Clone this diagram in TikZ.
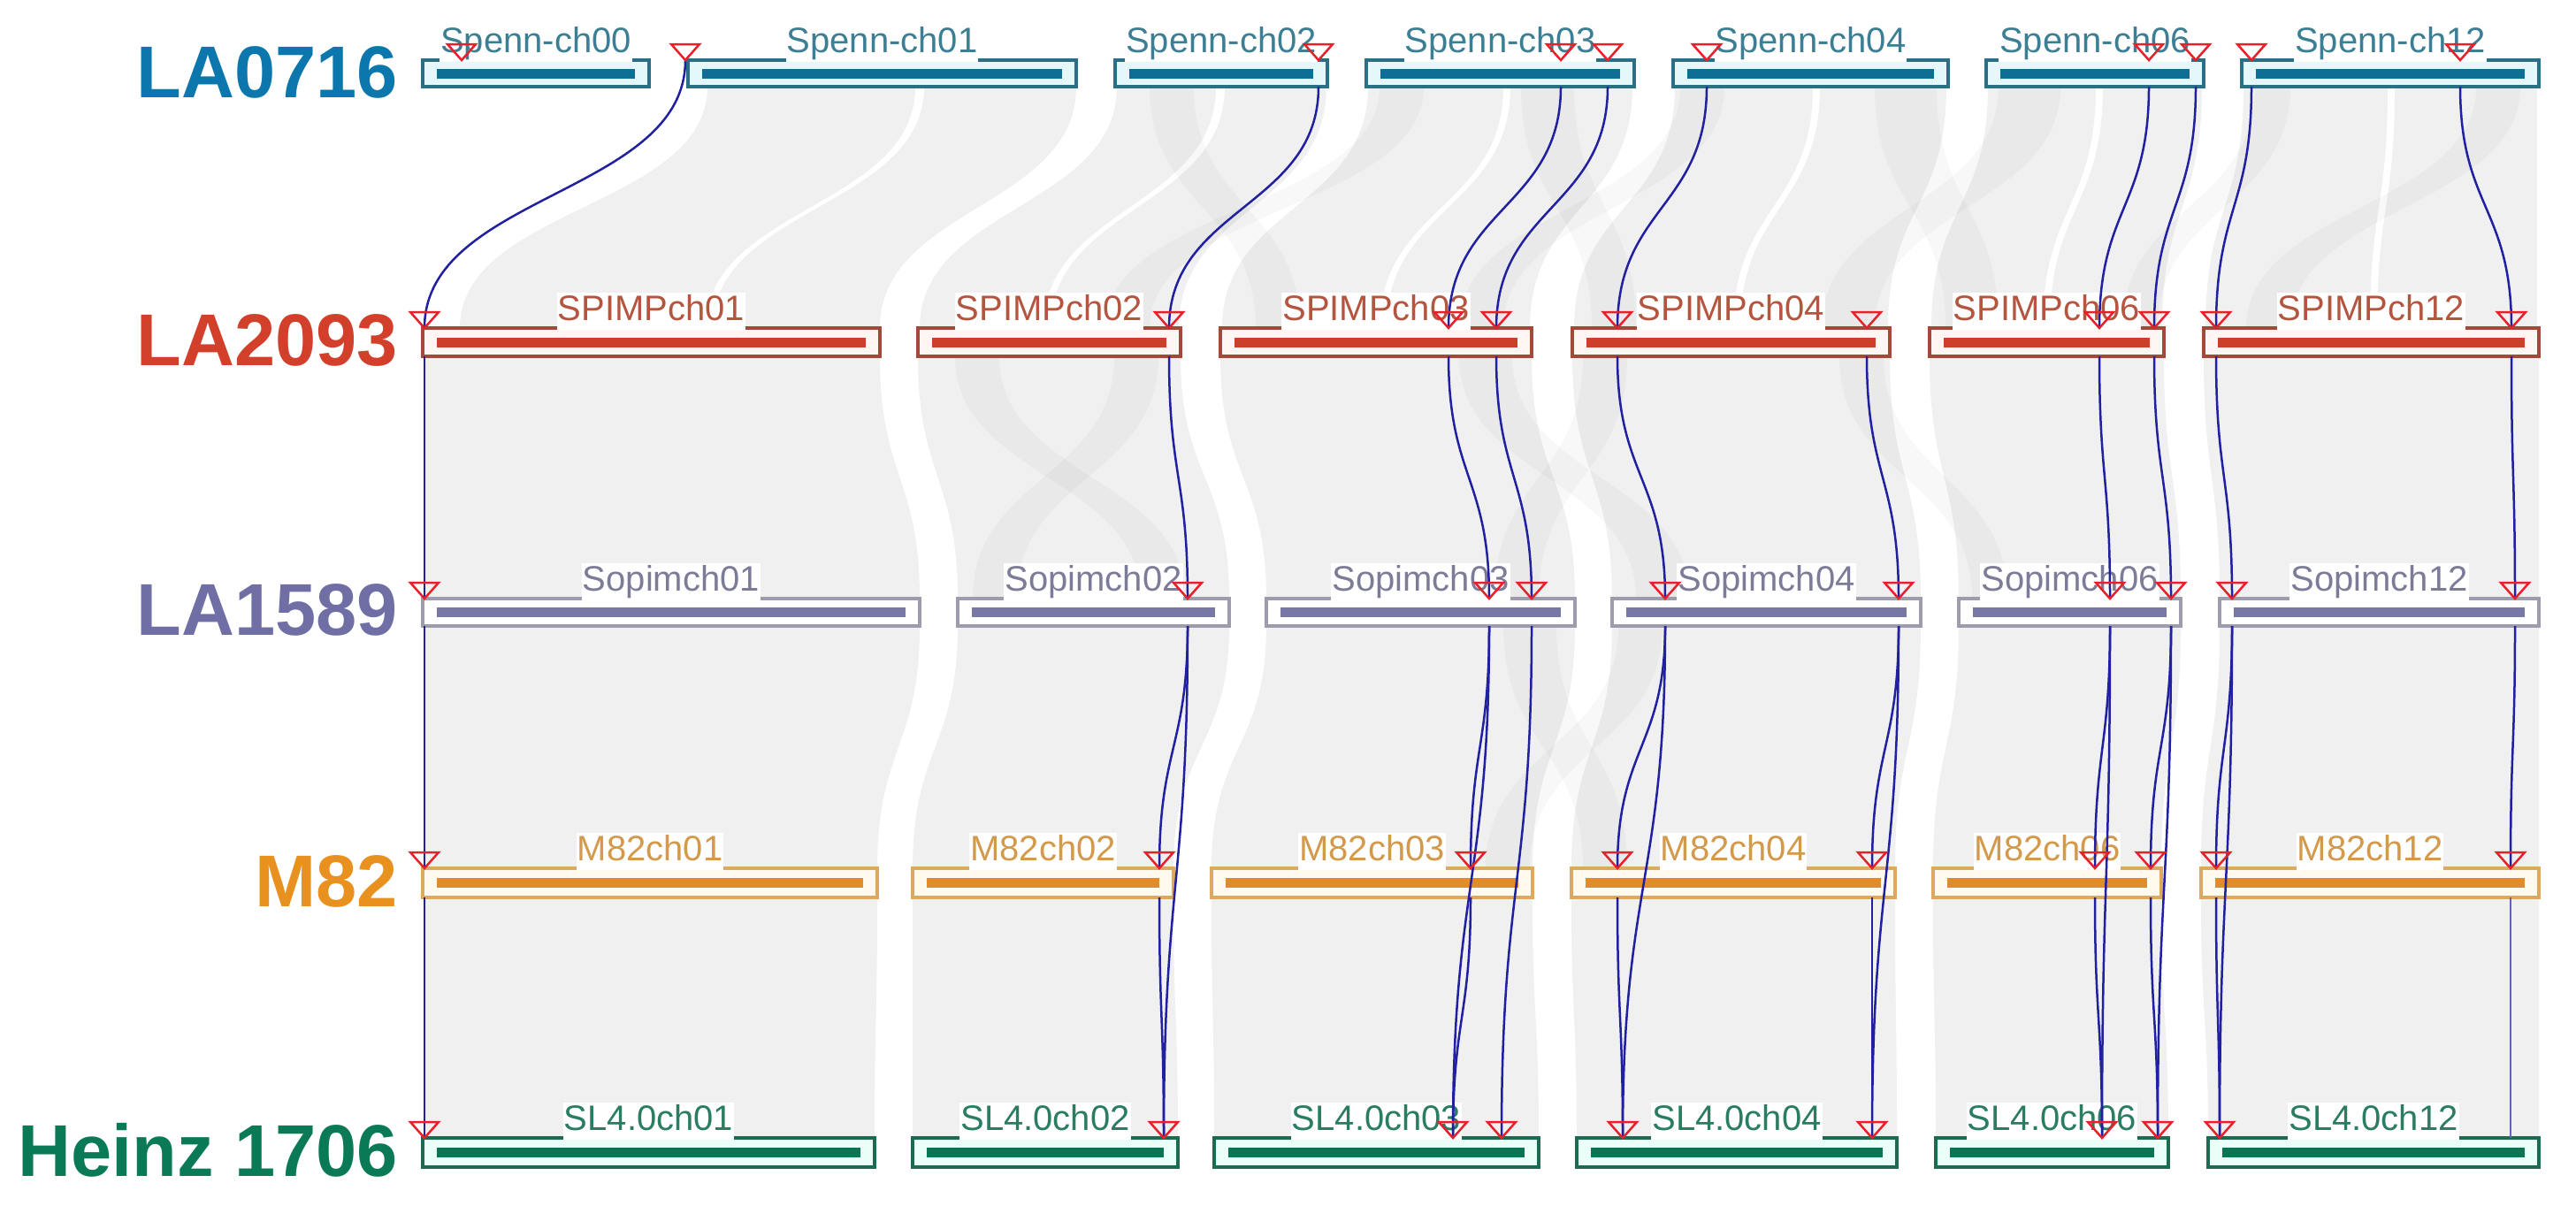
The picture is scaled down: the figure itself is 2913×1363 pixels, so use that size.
\documentclass[tikz,border=0pt]{standalone}
\usepackage{fontspec}
\setmainfont{Liberation Sans}
\usetikzlibrary{calc}

\definecolor{Aname}{HTML}{0B77AC}\definecolor{Abar}{HTML}{0E6E96}\definecolor{Aborder}{HTML}{2A6F86}\definecolor{Afill}{HTML}{E4F7FB}\definecolor{Alab}{HTML}{3C7F94}
\definecolor{Bname}{HTML}{D2402B}\definecolor{Bbar}{HTML}{CC3F28}\definecolor{Bborder}{HTML}{A4483A}\definecolor{Bfill}{HTML}{FFF6F4}\definecolor{Blab}{HTML}{B4563F}
\definecolor{Cname}{HTML}{6F6FA5}\definecolor{Cbar}{HTML}{7878A6}\definecolor{Cborder}{HTML}{9C9CAC}\definecolor{Cfill}{HTML}{FFFFFF}\definecolor{Clab}{HTML}{7C7C98}
\definecolor{Dname}{HTML}{E8911F}\definecolor{Dbar}{HTML}{E08C2C}\definecolor{Dborder}{HTML}{DDA862}\definecolor{Dfill}{HTML}{FFF9EE}\definecolor{Dlab}{HTML}{D49A4C}
\definecolor{Ename}{HTML}{0A7A56}\definecolor{Ebar}{HTML}{0A7552}\definecolor{Eborder}{HTML}{1E6A50}\definecolor{Efill}{HTML}{EAFFF8}\definecolor{Elab}{HTML}{2A7D62}
\definecolor{linkblue}{HTML}{2020A0}
\definecolor{trired}{HTML}{E8202C}

\tikzset{
  ribbon/.style={fill=black, fill opacity=0.06},
  xribbon/.style={fill=black, fill opacity=0.028},
  link/.style={draw=linkblue, line width=2.5pt},
  paleLink/.style={draw=linkblue!70, line width=2pt},
  tri/.style={draw=trired, line width=2.5pt, line join=miter},
  gname/.style={font=\bfseries\fontsize{83}{83}\selectfont, inner sep=0pt, anchor=base east},
  chrbox/.style={line width=3.5pt, inner sep=0pt},
  boxA/.style={chrbox, draw=Aborder, fill=Afill, minimum height=30},
  boxB/.style={chrbox, draw=Bborder, fill=Bfill, minimum height=32},
  boxC/.style={chrbox, draw=Cborder, fill=Cfill, minimum height=31},
  boxD/.style={chrbox, draw=Dborder, fill=Dfill, minimum height=33},
  boxE/.style={chrbox, draw=Eborder, fill=Efill, minimum height=33},
  barA/.style={draw=Abar, line width=11pt},
  barB/.style={draw=Bbar, line width=11pt},
  barC/.style={draw=Cbar, line width=11pt},
  barD/.style={draw=Dbar, line width=11pt},
  barE/.style={draw=Ebar, line width=11pt},
  chrlab/.style={font=\fontsize{40}{40}\selectfont, fill=white, inner sep=1pt, text height=30pt, text depth=10pt, anchor=base},
  labA/.style={chrlab, text=Alab},
  labB/.style={chrlab, text=Blab},
  labC/.style={chrlab, text=Clab},
  labD/.style={chrlab, text=Dlab},
  labE/.style={chrlab, text=Elab},
}

% ribbon: x1a x1b y1 x2a x2b y2
\newcommand\mkrib[7][ribbon]{%
  \fill[#1] (#2,#4) .. controls (#2,{(#4+#7)/2}) and (#5,{(#4+#7)/2}) .. (#5,#7)
    -- (#6,#7) .. controls (#6,{(#4+#7)/2}) and (#3,{(#4+#7)/2}) .. (#3,#4) -- cycle;}
% link between two named coordinates, vertical S-curve
\newcommand\mklink[3][link]{%
  \draw[#1] let \p1=(#2), \p2=(#3) in (\p1) .. controls ({\x1},{(\y1+\y2)/2}) and ({\x2},{(\y1+\y2)/2}) .. (\p2);}
% chromosome: row letter, name, xl, xr, yc, label
\newcommand\chrom[6]{%
  \node[box#1, minimum width={#4-#3}] (#2) at ({(#3+#4)/2},#5) {};
  \draw[bar#1] ([xshift=18pt]#2.west) -- ([xshift=-18pt]#2.east);
  \node[lab#1] (#2-lab) at ([yshift=7pt]#2.north) {#6};}

\begin{document}
\begin{tikzpicture}[x=1pt,y=-1pt]
\fill[white] (0,0) rectangle (2913,1363);
\useasboundingbox (0,0) rectangle (2913,1363);

% ---------------- synteny ribbons ----------------
% LA0716 -> LA2093
\mkrib{800}{1035}{98}{520}{798}{371}
\mkrib{1045}{1217}{98}{806}{995}{371}
\mkrib{1263}{1375}{98}{1040}{1180}{371}
\mkrib{1385}{1500}{98}{1188}{1333}{371}
\mkrib{1547}{1700}{98}{1382}{1560}{371}
\mkrib{1708}{1846}{98}{1568}{1730}{371}
\mkrib{1894}{2050}{98}{1780}{1960}{371}
\mkrib{2058}{2201}{98}{1968}{2135}{371}
\mkrib{2248}{2370}{98}{2184}{2310}{371}
\mkrib{2378}{2490}{98}{2318}{2445}{371}
\mkrib{2537}{2700}{98}{2494}{2680}{371}
\mkrib{2708}{2869}{98}{2688}{2869}{371}
\mkrib[xribbon]{2120}{2190}{98}{2200}{2260}{371}
\mkrib[xribbon]{2260}{2330}{98}{2060}{2120}{371}
\mkrib[xribbon]{1900}{1950}{98}{1650}{1700}{371}
\mkrib[xribbon]{1720}{1780}{98}{1800}{1850}{371}
\mkrib[xribbon]{1300}{1350}{98}{1420}{1470}{371}
\mkrib[xribbon]{1560}{1610}{98}{1250}{1300}{371}
\mkrib[xribbon]{2800}{2850}{98}{2540}{2590}{371}
\mkrib[xribbon]{2550}{2590}{98}{2400}{2440}{371}
% LA2093 -> LA1589
\mkrib{480}{995}{403}{480}{1040}{677}
\mkrib{1038}{1335}{403}{1083}{1390}{677}
\mkrib{1380}{1732}{403}{1432}{1781}{677}
\mkrib{1778}{2137}{403}{1823}{2172}{677}
\mkrib{2182}{2447}{403}{2215}{2466}{677}
\mkrib{2492}{2871}{403}{2510}{2871}{677}
\mkrib[xribbon]{1080}{1130}{403}{1290}{1340}{677}
\mkrib[xribbon]{1260}{1310}{403}{1100}{1150}{677}
\mkrib[xribbon]{1650}{1710}{403}{1850}{1910}{677}
\mkrib[xribbon]{1790}{1840}{403}{1690}{1740}{677}
\mkrib[xribbon]{2080}{2130}{403}{2230}{2270}{677}
% LA1589 -> M82
\mkrib{480}{1040}{708}{480}{992}{982}
\mkrib{1083}{1390}{708}{1032}{1327}{982}
\mkrib{1432}{1781}{708}{1370}{1733}{982}
\mkrib{1823}{2172}{708}{1777}{2143}{982}
\mkrib{2215}{2466}{708}{2186}{2444}{982}
\mkrib{2510}{2871}{708}{2489}{2871}{982}
\mkrib[xribbon]{1700}{1760}{708}{1790}{1840}{982}
\mkrib[xribbon]{1830}{1880}{708}{1680}{1730}{982}
% M82 -> Heinz 1706
\mkrib{480}{992}{1015}{480}{989}{1287}
\mkrib{1032}{1327}{1015}{1032}{1332}{1287}
\mkrib{1370}{1733}{1015}{1373}{1740}{1287}
\mkrib{1777}{2143}{1015}{1783}{2145}{1287}
\mkrib{2186}{2444}{1015}{2189}{2452}{1287}
\mkrib{2489}{2871}{1015}{2497}{2871}{1287}

% ---------------- genome names ----------------
\node[gname, text=Aname] (gA) at (450,110) {LA0716};
\node[gname, text=Bname] (gB) at (450,413) {LA2093};
\node[gname, text=Cname] (gC) at (450,718) {LA1589};
\node[gname, text=Dname] (gD) at (450,1025) {M82};
\node[gname, text=Ename] (gE) at (450,1330) {Heinz 1706};

% ---------------- chromosomes ----------------
\chrom{A}{a00}{478}{734}{83}{Spenn-ch00}
\chrom{A}{a01}{778}{1217}{83}{Spenn-ch01}
\chrom{A}{a02}{1261}{1501}{83}{Spenn-ch02}
\chrom{A}{a03}{1545}{1848}{83}{Spenn-ch03}
\chrom{A}{a04}{1892}{2203}{83}{Spenn-ch04}
\chrom{A}{a06}{2246}{2492}{83}{Spenn-ch06}
\chrom{A}{a12}{2535}{2871}{83}{Spenn-ch12}

\chrom{B}{b01}{478}{995}{387}{SPIMPch01}
\chrom{B}{b02}{1038}{1335}{387}{SPIMPch02}
\chrom{B}{b03}{1380}{1732}{387}{SPIMPch03}
\chrom{B}{b04}{1778}{2137}{387}{SPIMPch04}
\chrom{B}{b06}{2182}{2447}{387}{SPIMPch06}
\chrom{B}{b12}{2492}{2871}{387}{SPIMPch12}

\chrom{C}{c01}{478}{1040}{692.5}{Sopimch01}
\chrom{C}{c02}{1083}{1390}{692.5}{Sopimch02}
\chrom{C}{c03}{1432}{1781}{692.5}{Sopimch03}
\chrom{C}{c04}{1823}{2172}{692.5}{Sopimch04}
\chrom{C}{c06}{2215}{2466}{692.5}{Sopimch06}
\chrom{C}{c12}{2510}{2871}{692.5}{Sopimch12}

\chrom{D}{d01}{478}{992}{998.5}{M82ch01}
\chrom{D}{d02}{1032}{1327}{998.5}{M82ch02}
\chrom{D}{d03}{1370}{1733}{998.5}{M82ch03}
\chrom{D}{d04}{1777}{2143}{998.5}{M82ch04}
\chrom{D}{d06}{2186}{2444}{998.5}{M82ch06}
\chrom{D}{d12}{2489}{2871}{998.5}{M82ch12}

\chrom{E}{e01}{478}{989}{1303.5}{SL4.0ch01}
\chrom{E}{e02}{1032}{1332}{1303.5}{SL4.0ch02}
\chrom{E}{e03}{1373}{1740}{1303.5}{SL4.0ch03}
\chrom{E}{e04}{1783}{2145}{1303.5}{SL4.0ch04}
\chrom{E}{e06}{2189}{2452}{1303.5}{SL4.0ch06}
\chrom{E}{e12}{2497}{2871}{1303.5}{SL4.0ch12}

% ---------------- gene positions ----------------
\foreach \g in {522,775,1491,1765,1818,1930,2430,2483,2546,2782}{\coordinate (t1-\g) at (\g,68); \coordinate (b1-\g) at (\g,98);}
\foreach \g in {480,1322,1638,1692,1829,2111,2374,2436,2506,2840}{\coordinate (t2-\g) at (\g,371); \coordinate (b2-\g) at (\g,403);}
\foreach \g in {480,1343,1684,1732,1883,2147,2386,2455,2524,2844}{\coordinate (t3-\g) at (\g,677); \coordinate (b3-\g) at (\g,708);}
\foreach \g in {480,1311,1663,1829,2117,2369,2432,2506,2839}{\coordinate (t4-\g) at (\g,982); \coordinate (b4-\g) at (\g,1015);}
\foreach \g in {480,1316,1643,1698,1835,2117,2377,2440,2510,2839}{\coordinate (t5-\g) at (\g,1287);}

% ---------------- links ----------------
\mklink{t1-775}{t2-480}
\mklink{b1-1491}{t2-1322}
\mklink{b1-1765}{t2-1638}
\mklink{b1-1818}{t2-1692}
\mklink{b1-1930}{t2-1829}
\mklink{b1-2430}{t2-2374}
\mklink{b1-2483}{t2-2436}
\mklink{b1-2546}{t2-2506}
\mklink{b1-2782}{t2-2840}

\mklink{b2-480}{t3-480}
\mklink{b2-1322}{t3-1343}
\mklink{b2-1638}{t3-1684}
\mklink{b2-1692}{t3-1732}
\mklink{b2-1829}{t3-1883}
\mklink{b2-2111}{t3-2147}
\mklink{b2-2374}{t3-2386}
\mklink{b2-2436}{t3-2455}
\mklink{b2-2506}{t3-2524}
\mklink{b2-2840}{t3-2844}

\mklink{b3-480}{t4-480}
\mklink{b3-1343}{t4-1311}
\mklink{b3-1684}{t4-1663}
\mklink{b3-1883}{t4-1829}
\mklink{b3-2147}{t4-2117}
\mklink{b3-2386}{t4-2369}
\mklink{b3-2455}{t4-2432}
\mklink{b3-2524}{t4-2506}
\mklink{b3-2844}{t4-2839}

\mklink{b3-1343}{t5-1316}
\mklink{b3-1684}{t5-1643}
\mklink{b3-1732}{t5-1698}
\mklink{b3-1883}{t5-1835}
\mklink{b3-2147}{t5-2117}
\mklink{b3-2386}{t5-2377}
\mklink{b3-2455}{t5-2440}
\mklink{b3-2524}{t5-2510}

\mklink{b4-480}{t5-480}
\mklink{b4-1311}{t5-1316}
\mklink{b4-1663}{t5-1643}
\mklink{b4-1829}{t5-1835}
\mklink{b4-2117}{t5-2117}
\mklink{b4-2369}{t5-2377}
\mklink{b4-2432}{t5-2440}
\mklink{b4-2506}{t5-2510}
\mklink[paleLink]{b4-2839}{t5-2839}

% ---------------- gene markers ----------------
\foreach \r/\lst in {1/{522,775,1491,1765,1818,1930,2430,2483,2546,2782},
                     2/{480,1322,1638,1692,1829,2111,2374,2436,2506,2840},
                     3/{480,1343,1684,1732,1883,2147,2386,2455,2524,2844},
                     4/{480,1311,1663,1829,2117,2369,2432,2506,2839},
                     5/{480,1316,1643,1698,1835,2117,2377,2440,2510}}{
  \foreach \g in \lst {\draw[tri] (t\r-\g) -- ++(-16,-18) -- ++(32,0) -- cycle;}
}
\end{tikzpicture}
\end{document}
